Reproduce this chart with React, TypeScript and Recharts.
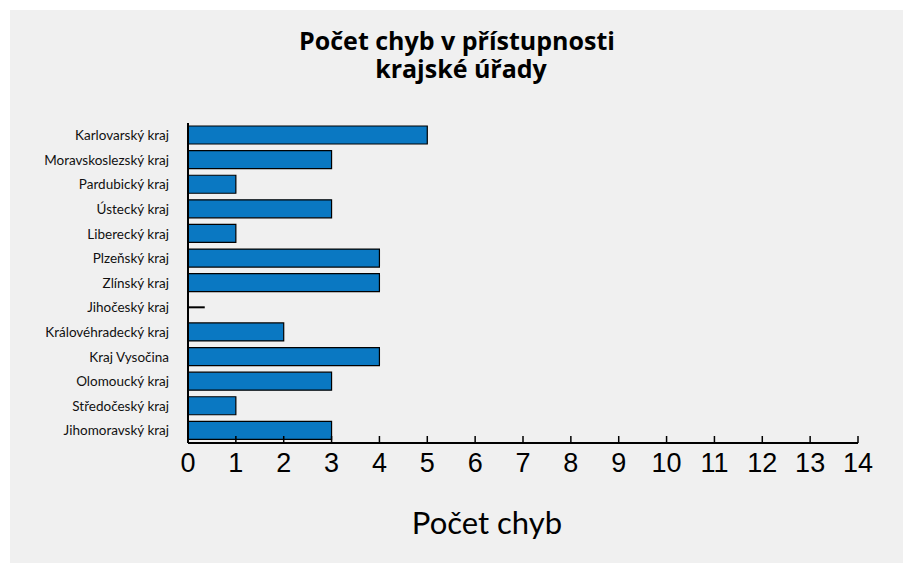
import React from 'react';
import { BarChart, Bar, XAxis, YAxis } from 'recharts';

const categories = [
  'Karlovarský kraj',
  'Moravskoslezský kraj',
  'Pardubický kraj',
  'Ústecký kraj',
  'Liberecký kraj',
  'Plzeňský kraj',
  'Zlínský kraj',
  'Jihočeský kraj',
  'Královéhradecký kraj',
  'Kraj Vysočina',
  'Olomoucký kraj',
  'Středočeský kraj',
  'Jihomoravský kraj',
];
const errorCounts = [5, 3, 1, 3, 1, 4, 4, 0, 2, 4, 3, 1, 3];
// short stub drawn for the zero-valued region
const zeroStub = [0, 0, 0, 0, 0, 0, 0, 0.35, 0, 0, 0, 0, 0];
const xTicks = [0, 1, 2, 3, 4, 5, 6, 7, 8, 9, 10, 11, 12, 13, 14];
const titleLines = ['Počet chyb v přístupnosti', 'krajské úřady'];
const xAxisTitle = 'Počet chyb';

const data = categories.map((name, i) => ({ name, value: errorCounts[i], stub: zeroStub[i] }));

const W = 893;
const H = 553;
const FONT = 'Lato, "Open Sans", sans-serif';

const StubShape = (props: any) => {
  const { x, y, width, height } = props;
  if (!width || width <= 0) return null;
  const cy = y + height / 2;
  return <line x1={x} x2={x + width} y1={cy} y2={cy} stroke="#000" strokeWidth={2} />;
};

export default function App() {
  return (
    <div style={{ position: 'absolute', left: 10, top: 10, width: W, height: H, background: '#f0f0f0' }}>
      <BarChart
        width={W}
        height={H}
        data={data}
        layout="vertical"
        margin={{ top: 113, right: 45, bottom: 90, left: 0 }}
        barSize={18}
      >
        <XAxis
          type="number"
          domain={[0, 14]}
          ticks={xTicks}
          interval={0}
          height={30}
          axisLine={{ stroke: '#000', strokeWidth: 2 }}
          tickLine={{ stroke: '#000', strokeWidth: 1.5 }}
          tickSize={-7}
          tickMargin={17}
          tick={{ fill: '#000', fontSize: 27, fontFamily: '"Liberation Sans", Arial, sans-serif' }}
        />
        <YAxis
          type="category"
          dataKey="name"
          width={178}
          interval={0}
          axisLine={{ stroke: '#000', strokeWidth: 2 }}
          tickLine={false}
          tickSize={0}
          tickMargin={19}
          tick={{ fill: '#111', fontSize: 13.5, fontFamily: FONT }}
        />
        <Bar dataKey="value" stackId="a" fill="#0a78c2" stroke="#000" strokeWidth={1.2} isAnimationActive={false} />
        <Bar dataKey="stub" stackId="a" shape={StubShape} isAnimationActive={false} />
      </BarChart>
      <svg
        width={W}
        height={H}
        style={{ position: 'absolute', left: 0, top: 0, pointerEvents: 'none' }}
      >
        <text x={447} y={40} textAnchor="middle" fontFamily='"Open Sans", sans-serif' fontWeight={700} fontSize={25} fill="#000">
          {titleLines[0]}
        </text>
        <text x={451} y={68} textAnchor="middle" fontFamily='"Open Sans", sans-serif' fontWeight={700} fontSize={25} fill="#000">
          {titleLines[1]}
        </text>
        <text x={477} y={524} textAnchor="middle" fontFamily={FONT} fontSize={31} fill="#000">
          {xAxisTitle}
        </text>
      </svg>
    </div>
  );
}
